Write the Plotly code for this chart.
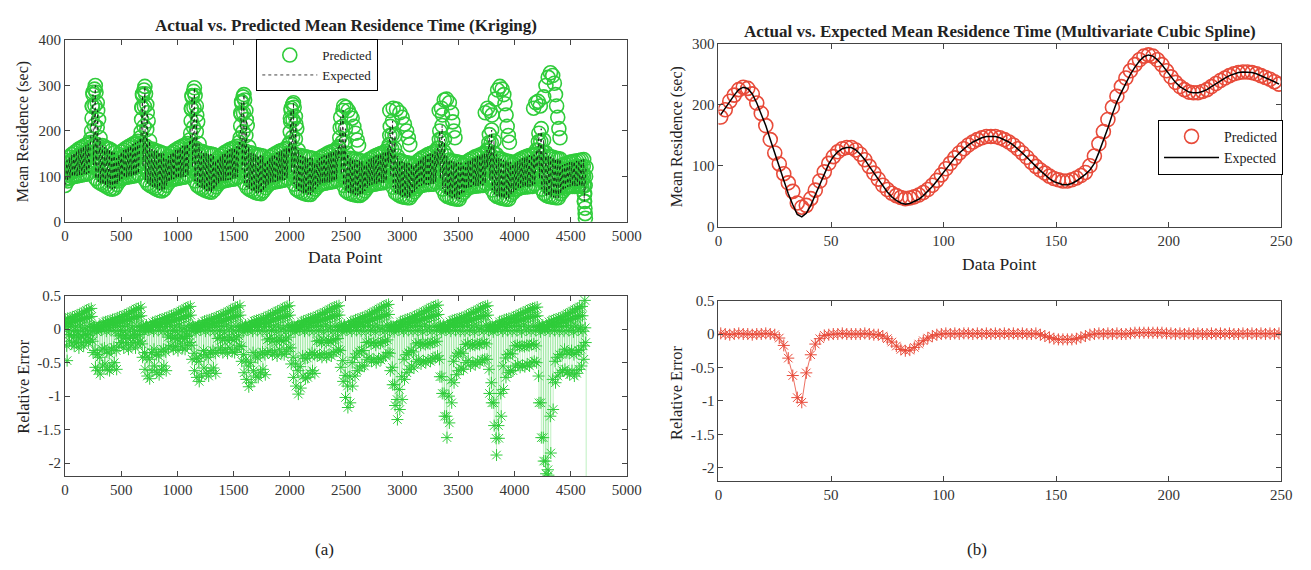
import plotly.graph_objects as go

# ---------------- DATA ----------------
# (a) Kriging: expected mean residence, read at five positions across each 21-point sweep
EXP_LO = [
    [80, 90, 96, 99, 100, 101, 102, 103, 104, 105, 108, 175, 125, 95, 88, 85, 82, 79, 76, 73, 72],
    [74, 82, 90, 95, 97, 98, 99, 100, 101, 102, 106, 172, 122, 92, 84, 80, 77, 74, 71, 69, 68],
    [72, 80, 87, 92, 94, 95, 96, 97, 98, 99, 103, 168, 120, 90, 80, 76, 73, 70, 68, 66, 65],
    [70, 77, 84, 88, 90, 91, 92, 93, 94, 95, 99, 160, 115, 86, 76, 72, 69, 66, 64, 63, 62],
    [68, 75, 81, 85, 87, 88, 89, 90, 91, 92, 96, 150, 110, 83, 72, 68, 65, 63, 61, 60, 60],
    [66, 72, 78, 82, 84, 85, 86, 87, 88, 89, 93, 140, 105, 80, 68, 64, 62, 60, 59, 58, 58],
    [62, 68, 75, 80, 82, 83, 84, 85, 86, 86, 90, 130, 100, 76, 64, 60, 57, 55, 54, 53, 53],
    [60, 66, 73, 78, 80, 81, 82, 82, 83, 83, 88, 125, 95, 72, 60, 56, 54, 52, 51, 50, 50],
    [60, 65, 71, 75, 77, 78, 79, 79, 80, 80, 85, 120, 92, 70, 60, 56, 54, 52, 51, 50, 50],
    [60, 65, 70, 73, 75, 76, 77, 77, 78, 78, 83, 120, 95, 72, 62, 58, 56, 55, 54, 53, 53],
    [62, 68, 74, 77, 78, 78, 78, 79, 79, 78, 45],
]
EXP_Q1 = [
    [94, 103, 109, 112, 114, 115, 117, 118, 120, 121, 126, 200, 168, 132, 112, 105, 102, 100, 97, 94, 92],
    [90, 98, 106, 110, 113, 115, 116, 118, 119, 121, 126, 198, 166, 129, 107, 100, 97, 94, 91, 89, 88],
    [88, 96, 102, 107, 110, 111, 113, 114, 116, 117, 122, 195, 164, 126, 103, 96, 93, 90, 88, 87, 85],
    [86, 92, 99, 103, 106, 107, 109, 110, 111, 112, 118, 185, 156, 121, 98, 92, 89, 86, 84, 83, 82],
    [84, 90, 96, 100, 102, 104, 105, 106, 108, 109, 114, 174, 148, 116, 93, 87, 85, 83, 81, 80, 80],
    [82, 88, 93, 97, 99, 101, 102, 103, 105, 106, 111, 162, 140, 111, 88, 83, 81, 79, 78, 77, 77],
    [78, 84, 90, 95, 97, 98, 100, 101, 102, 103, 108, 150, 130, 104, 84, 78, 76, 74, 73, 72, 71],
    [76, 82, 88, 93, 95, 97, 98, 99, 100, 101, 106, 143, 124, 99, 81, 76, 74, 72, 71, 70, 70],
    [76, 81, 86, 90, 92, 94, 95, 96, 97, 97, 103, 138, 120, 97, 82, 77, 75, 73, 71, 70, 70],
    [77, 81, 86, 89, 91, 92, 93, 94, 95, 95, 101, 138, 122, 99, 84, 79, 77, 76, 75, 74, 74],
    [78, 82, 87, 90, 91, 91, 92, 93, 93, 92, 62],
]
EXP_MID = [
    [108, 116, 122, 126, 128, 130, 132, 134, 136, 138, 145, 228, 212, 170, 136, 126, 123, 120, 118, 115, 112],
    [107, 115, 122, 126, 130, 132, 134, 136, 138, 140, 146, 225, 210, 166, 131, 120, 118, 115, 112, 110, 109],
    [105, 112, 118, 123, 126, 128, 130, 132, 134, 136, 142, 222, 208, 162, 126, 116, 113, 111, 109, 108, 106],
    [102, 108, 114, 118, 122, 124, 126, 127, 128, 130, 137, 211, 198, 156, 120, 112, 110, 107, 105, 104, 103],
    [100, 106, 111, 115, 118, 120, 122, 123, 125, 127, 133, 198, 186, 149, 115, 107, 105, 103, 101, 100, 100],
    [98, 104, 109, 112, 115, 117, 119, 120, 122, 124, 129, 185, 175, 142, 109, 102, 100, 98, 97, 96, 96],
    [94, 100, 106, 110, 112, 114, 116, 117, 119, 120, 126, 170, 161, 133, 104, 97, 95, 93, 92, 91, 90],
    [92, 98, 104, 108, 111, 113, 115, 116, 117, 119, 125, 162, 153, 127, 102, 96, 94, 92, 91, 90, 90],
    [93, 97, 102, 106, 108, 110, 112, 113, 114, 115, 121, 156, 147, 124, 104, 98, 96, 94, 92, 91, 91],
    [94, 98, 102, 105, 107, 109, 110, 111, 112, 113, 120, 157, 150, 126, 107, 101, 99, 98, 97, 96, 95],
    [94, 97, 101, 104, 105, 105, 106, 107, 107, 107, 80],
]
EXP_Q3 = [
    [121, 129, 135, 139, 142, 145, 147, 150, 152, 155, 163, 254, 256, 208, 160, 147, 144, 141, 139, 136, 132],
    [123, 131, 138, 142, 146, 148, 151, 153, 156, 158, 165, 251, 254, 203, 154, 140, 138, 135, 133, 131, 129],
    [121, 128, 134, 138, 142, 144, 147, 149, 151, 154, 161, 248, 251, 198, 149, 135, 133, 131, 129, 128, 127],
    [118, 124, 129, 133, 137, 140, 142, 144, 145, 148, 156, 236, 239, 190, 142, 132, 130, 127, 126, 125, 124],
    [116, 121, 126, 130, 133, 136, 138, 140, 142, 144, 151, 221, 224, 182, 136, 126, 124, 123, 121, 120, 120],
    [114, 119, 124, 127, 130, 133, 135, 137, 139, 141, 147, 207, 210, 173, 129, 121, 119, 117, 116, 115, 115],
    [110, 116, 121, 125, 127, 130, 132, 133, 135, 137, 144, 190, 191, 161, 124, 116, 114, 112, 111, 110, 109],
    [108, 114, 119, 123, 126, 129, 131, 133, 134, 137, 143, 181, 182, 154, 123, 116, 114, 112, 111, 110, 110],
    [110, 113, 118, 121, 124, 126, 128, 130, 131, 133, 139, 174, 174, 151, 126, 119, 117, 115, 113, 112, 111],
    [111, 114, 118, 121, 123, 125, 127, 128, 129, 130, 139, 176, 177, 153, 129, 123, 121, 120, 118, 117, 116],
    [110, 112, 115, 117, 118, 119, 120, 121, 121, 122, 100],
]
EXP_HI = [
    [135, 142, 148, 152, 156, 160, 163, 166, 169, 172, 182, 280, 300, 245, 185, 168, 165, 162, 160, 157, 152],
    [140, 148, 154, 158, 162, 165, 168, 171, 174, 177, 185, 278, 298, 240, 178, 160, 158, 156, 154, 152, 150],
    [138, 145, 150, 154, 158, 161, 164, 167, 169, 172, 180, 275, 295, 235, 172, 155, 153, 151, 150, 149, 148],
    [134, 140, 145, 149, 153, 156, 159, 161, 163, 166, 175, 262, 280, 225, 165, 152, 150, 148, 147, 146, 145],
    [132, 137, 142, 146, 149, 152, 155, 157, 159, 162, 170, 245, 262, 215, 158, 146, 144, 143, 142, 141, 140],
    [130, 135, 140, 143, 146, 149, 152, 154, 156, 158, 165, 230, 245, 205, 150, 140, 138, 137, 136, 135, 134],
    [126, 132, 137, 140, 143, 146, 148, 150, 152, 155, 162, 210, 222, 190, 145, 135, 133, 131, 130, 129, 128],
    [124, 130, 135, 139, 142, 145, 148, 150, 152, 155, 162, 200, 212, 182, 145, 136, 134, 133, 132, 131, 130],
    [126, 130, 134, 137, 140, 143, 145, 147, 149, 151, 158, 192, 202, 178, 148, 140, 138, 136, 134, 133, 132],
    [128, 131, 134, 137, 140, 142, 144, 146, 147, 148, 158, 195, 205, 180, 152, 145, 143, 142, 140, 139, 138],
    [125, 127, 129, 131, 132, 133, 134, 135, 136, 137, 120],
]
# predicted values that leave the expected band (a)
PRED_EXTRA_X = [241, 248, 262, 275, 286, 298,
                682, 689, 703, 716, 727, 739,
                1123, 1130, 1144, 1157, 1168, 1180,
                1564, 1571, 1585, 1598, 1609, 1621,
                2005, 2012, 2026, 2039, 2050, 2062,
                2480, 2500, 2520, 2540, 2555, 2570, 2585, 2600, 2612,
                2890, 2920, 2950, 2980, 3000, 3020, 3040, 3055, 3068,
                3330, 3350, 3360, 3375, 3395, 3420, 3440, 3450, 3460, 3470,
                3740, 3760, 3780, 3800, 3830, 3850, 3870, 3890, 3905, 3915, 3925, 3935, 3945, 3955,
                4170, 4190, 4210, 4230, 4260, 4280, 4300, 4320, 4340, 4355, 4365, 4375, 4385, 4395, 4405,
                4615, 4618, 4621, 4624, 4627, 4629, 4631]
PRED_EXTRA_Y = [255, 285, 292, 285, 262, 225,
                252, 282, 290, 282, 258, 222,
                250, 278, 287, 278, 255, 220,
                240, 265, 275, 268, 245, 212,
                228, 250, 258, 252, 232, 205,
                255, 252, 245, 235, 228, 210, 195, 180, 168,
                245, 250, 248, 240, 230, 215, 200, 185, 170,
                245, 250, 235, 268, 270, 262, 240, 220, 200, 185,
                240, 250, 245, 235, 270, 290, 298, 292, 280, 260, 235, 210, 190, 175,
                250, 262, 265, 255, 275, 300, 318, 328, 322, 305, 280, 255, 230, 205, 185,
                100, 80, 62, 45, 30, 18, 8]

# (a) relative error per sweep
ERR_UP = [
    [0.15, 0.16, 0.17, 0.18, 0.19, 0.21, 0.22, 0.24, 0.26, 0.28, 0.30, 0.31, 0.04, 0.03, 0.03, 0.04, 0.10, 0.11, 0.12, 0.13, 0.14],
    [0.15, 0.17, 0.18, 0.19, 0.21, 0.22, 0.24, 0.26, 0.28, 0.30, 0.31, 0.33, 0.05, 0.03, 0.03, 0.05, 0.10, 0.11, 0.12, 0.14, 0.15],
    [0.16, 0.17, 0.19, 0.20, 0.22, 0.23, 0.25, 0.27, 0.29, 0.31, 0.33, 0.34, 0.05, 0.03, 0.04, 0.05, 0.10, 0.12, 0.13, 0.14, 0.15],
    [0.16, 0.18, 0.19, 0.21, 0.22, 0.24, 0.26, 0.28, 0.30, 0.32, 0.33, 0.35, 0.05, 0.03, 0.04, 0.05, 0.10, 0.12, 0.13, 0.14, 0.15],
    [0.16, 0.18, 0.20, 0.21, 0.23, 0.25, 0.27, 0.28, 0.30, 0.32, 0.34, 0.35, 0.05, 0.04, 0.03, 0.05, 0.11, 0.12, 0.13, 0.15, 0.16],
    [0.17, 0.18, 0.20, 0.22, 0.23, 0.25, 0.27, 0.29, 0.31, 0.33, 0.34, 0.35, 0.05, 0.04, 0.03, 0.05, 0.11, 0.12, 0.14, 0.15, 0.16],
    [0.17, 0.19, 0.20, 0.22, 0.24, 0.26, 0.28, 0.30, 0.32, 0.34, 0.36, 0.37, 0.05, 0.04, 0.03, 0.05, 0.11, 0.12, 0.14, 0.15, 0.16],
    [0.17, 0.19, 0.21, 0.22, 0.24, 0.26, 0.28, 0.30, 0.32, 0.33, 0.35, 0.36, 0.05, 0.04, 0.03, 0.05, 0.11, 0.13, 0.14, 0.15, 0.16],
    [0.17, 0.18, 0.20, 0.22, 0.24, 0.25, 0.27, 0.29, 0.31, 0.33, 0.34, 0.35, 0.05, 0.04, 0.03, 0.05, 0.11, 0.12, 0.14, 0.15, 0.16],
    [0.16, 0.18, 0.20, 0.21, 0.23, 0.25, 0.26, 0.28, 0.30, 0.31, 0.32, 0.33, 0.05, 0.04, 0.03, 0.05, 0.11, 0.12, 0.14, 0.15, 0.16],
    [0.17, 0.19, 0.21, 0.23, 0.25, 0.27, 0.29, 0.31, 0.33, 0.34, 0.90],
]
ERR_UP2 = [
    [0.08, 0.09, 0.10, 0.11, 0.12, 0.13, 0.14, 0.15, 0.16, 0.17, 0.18, 0.19, 0.02, 0.01, 0.02, 0.02, 0.06, 0.07, 0.07, 0.08, 0.08],
    [0.09, 0.10, 0.11, 0.12, 0.13, 0.14, 0.15, 0.16, 0.17, 0.18, 0.19, 0.20, 0.02, 0.01, 0.02, 0.03, 0.06, 0.07, 0.07, 0.08, 0.09],
    [0.09, 0.10, 0.11, 0.12, 0.13, 0.14, 0.15, 0.16, 0.17, 0.19, 0.20, 0.21, 0.02, 0.01, 0.02, 0.03, 0.06, 0.07, 0.08, 0.08, 0.09],
    [0.09, 0.10, 0.11, 0.12, 0.13, 0.14, 0.16, 0.17, 0.18, 0.19, 0.20, 0.21, 0.02, 0.01, 0.02, 0.03, 0.06, 0.07, 0.08, 0.08, 0.09],
    [0.09, 0.10, 0.12, 0.12, 0.14, 0.15, 0.16, 0.17, 0.18, 0.19, 0.20, 0.21, 0.02, 0.02, 0.02, 0.03, 0.07, 0.07, 0.08, 0.09, 0.10],
    [0.10, 0.11, 0.12, 0.13, 0.14, 0.15, 0.16, 0.17, 0.19, 0.20, 0.21, 0.21, 0.02, 0.02, 0.02, 0.03, 0.07, 0.07, 0.08, 0.09, 0.10],
    [0.10, 0.11, 0.12, 0.13, 0.14, 0.16, 0.17, 0.18, 0.19, 0.20, 0.22, 0.22, 0.02, 0.02, 0.02, 0.03, 0.07, 0.07, 0.08, 0.09, 0.10],
    [0.10, 0.11, 0.13, 0.13, 0.14, 0.16, 0.17, 0.18, 0.19, 0.20, 0.21, 0.22, 0.02, 0.02, 0.02, 0.03, 0.07, 0.08, 0.08, 0.09, 0.10],
    [0.10, 0.11, 0.12, 0.13, 0.14, 0.15, 0.16, 0.17, 0.19, 0.20, 0.20, 0.21, 0.02, 0.02, 0.02, 0.03, 0.07, 0.07, 0.08, 0.09, 0.10],
    [0.10, 0.11, 0.12, 0.13, 0.14, 0.15, 0.16, 0.17, 0.18, 0.19, 0.19, 0.20, 0.02, 0.02, 0.02, 0.03, 0.07, 0.07, 0.08, 0.09, 0.10],
    [0.10, 0.11, 0.13, 0.14, 0.15, 0.16, 0.17, 0.19, 0.20, 0.20, 0.43],
]
ERR_NEAR0 = [
    [0.04, -0.03, 0.06, -0.02, 0.03, -0.04, 0.05, -0.01, 0.02, -0.03, 0.06, -0.02, 0.03, -0.04, 0.05, -0.01, 0.04, -0.03, 0.02, -0.02, 0.05],
    [-0.03, 0.05, -0.02, 0.04, -0.04, 0.06, -0.01, 0.03, -0.03, 0.05, -0.02, 0.04, -0.04, 0.06, -0.01, 0.03, -0.03, 0.05, -0.02, 0.04, -0.03],
    [0.04, -0.03, 0.06, -0.02, 0.03, -0.04, 0.05, -0.01, 0.02, -0.03, 0.06, -0.02, 0.03, -0.04, 0.05, -0.01, 0.04, -0.03, 0.02, -0.02, 0.05],
    [-0.03, 0.05, -0.02, 0.04, -0.04, 0.06, -0.01, 0.03, -0.03, 0.05, -0.02, 0.04, -0.04, 0.06, -0.01, 0.03, -0.03, 0.05, -0.02, 0.04, -0.03],
    [0.04, -0.03, 0.06, -0.02, 0.03, -0.04, 0.05, -0.01, 0.02, -0.03, 0.06, -0.02, 0.03, -0.04, 0.05, -0.01, 0.04, -0.03, 0.02, -0.02, 0.05],
    [-0.03, 0.05, -0.02, 0.04, -0.04, 0.06, -0.01, 0.03, -0.03, 0.05, -0.02, 0.04, -0.04, 0.06, -0.01, 0.03, -0.03, 0.05, -0.02, 0.04, -0.03],
    [0.04, -0.03, 0.06, -0.02, 0.03, -0.04, 0.05, -0.01, 0.02, -0.03, 0.06, -0.02, 0.03, -0.04, 0.05, -0.01, 0.04, -0.03, 0.02, -0.02, 0.05],
    [-0.03, 0.05, -0.02, 0.04, -0.04, 0.06, -0.01, 0.03, -0.03, 0.05, -0.02, 0.04, -0.04, 0.06, -0.01, 0.03, -0.03, 0.05, -0.02, 0.04, -0.03],
    [0.04, -0.03, 0.06, -0.02, 0.03, -0.04, 0.05, -0.01, 0.02, -0.03, 0.06, -0.02, 0.03, -0.04, 0.05, -0.01, 0.04, -0.03, 0.02, -0.02, 0.05],
    [-0.03, 0.05, -0.02, 0.04, -0.04, 0.06, -0.01, 0.03, -0.03, 0.05, -0.02, 0.04, -0.04, 0.06, -0.01, 0.03, -0.03, 0.05, -0.02, 0.04, -0.03],
    [0.04, -0.03, 0.06, -0.02, 0.03, -0.04, 0.05, -0.01, 0.02, -0.03, 0.02],
]
ERR_MID = [
    [-0.25, -0.08, -0.10, -0.12, -0.09, -0.13, -0.10, -0.12, -0.08, -0.09, -0.07, -0.18, -0.32, -0.38, -0.42, -0.30, -0.28, -0.34, -0.36, -0.30, -0.27],
    [-0.32, -0.10, -0.09, -0.13, -0.10, -0.14, -0.12, -0.09, -0.13, -0.10, -0.08, -0.22, -0.35, -0.42, -0.45, -0.35, -0.30, -0.38, -0.40, -0.33, -0.30],
    [-0.34, -0.12, -0.10, -0.14, -0.12, -0.15, -0.10, -0.13, -0.14, -0.11, -0.09, -0.24, -0.36, -0.44, -0.48, -0.40, -0.32, -0.38, -0.42, -0.35, -0.32],
    [-0.36, -0.14, -0.12, -0.16, -0.13, -0.17, -0.12, -0.15, -0.16, -0.13, -0.10, -0.26, -0.38, -0.46, -0.55, -0.50, -0.35, -0.40, -0.43, -0.37, -0.34],
    [-0.38, -0.16, -0.14, -0.18, -0.15, -0.19, -0.13, -0.17, -0.18, -0.15, -0.12, -0.28, -0.42, -0.52, -0.62, -0.56, -0.40, -0.44, -0.43, -0.38, -0.35],
    [-0.38, -0.18, -0.17, -0.20, -0.16, -0.20, -0.17, -0.19, -0.16, -0.15, -0.14, -0.32, -0.47, -0.69, -0.85, -0.71, -0.50, -0.42, -0.37, -0.34, -0.32],
    [-0.32, -0.20, -0.19, -0.22, -0.20, -0.24, -0.20, -0.21, -0.19, -0.18, -0.16, -0.36, -0.57, -0.83, -1.05, -0.90, -0.71, -0.45, -0.38, -0.35, -0.32],
    [-0.34, -0.22, -0.20, -0.24, -0.21, -0.23, -0.21, -0.22, -0.20, -0.19, -0.18, -0.45, -0.71, -0.96, -1.30, -1.00, -0.76, -0.48, -0.40, -0.36, -0.34],
    [-0.36, -0.23, -0.21, -0.25, -0.23, -0.24, -0.22, -0.23, -0.21, -0.20, -0.22, -0.60, -0.80, -1.10, -1.63, -1.44, -0.96, -0.55, -0.43, -0.38, -0.36],
    [-0.37, -0.25, -0.24, -0.26, -0.25, -0.26, -0.24, -0.25, -0.23, -0.22, -0.25, -0.70, -1.10, -1.62, -1.97, -2.10, -1.30, -0.75, -0.48, -0.42, -0.38],
    [-0.38, -0.30, -0.34, -0.36, -0.32, -0.38, -0.35, -0.32, -0.30, -0.25, -0.20],
]
ERR_DN = [
    [-0.47, -0.18, -0.22, -0.25, -0.20, -0.28, -0.22, -0.25, -0.18, -0.20, -0.15, -0.35, -0.57, -0.62, -0.67, -0.55, -0.52, -0.60, -0.62, -0.55, -0.50],
    [-0.60, -0.25, -0.20, -0.28, -0.22, -0.30, -0.25, -0.20, -0.28, -0.22, -0.18, -0.42, -0.60, -0.70, -0.74, -0.62, -0.55, -0.65, -0.68, -0.60, -0.55],
    [-0.62, -0.28, -0.24, -0.30, -0.26, -0.32, -0.22, -0.28, -0.30, -0.24, -0.20, -0.45, -0.62, -0.72, -0.78, -0.70, -0.58, -0.66, -0.70, -0.62, -0.58],
    [-0.66, -0.32, -0.28, -0.35, -0.30, -0.36, -0.28, -0.33, -0.35, -0.30, -0.24, -0.48, -0.65, -0.75, -0.86, -0.80, -0.62, -0.70, -0.72, -0.65, -0.60],
    [-0.68, -0.35, -0.32, -0.38, -0.34, -0.40, -0.30, -0.36, -0.38, -0.33, -0.28, -0.52, -0.72, -0.85, -0.97, -0.88, -0.70, -0.74, -0.72, -0.66, -0.62],
    [-0.66, -0.40, -0.38, -0.42, -0.36, -0.42, -0.38, -0.40, -0.35, -0.33, -0.30, -0.57, -0.78, -1.02, -1.17, -1.10, -0.85, -0.70, -0.62, -0.58, -0.55],
    [-0.55, -0.45, -0.42, -0.48, -0.45, -0.50, -0.44, -0.46, -0.42, -0.40, -0.35, -0.62, -0.83, -1.14, -1.35, -1.20, -1.05, -0.75, -0.65, -0.60, -0.55],
    [-0.58, -0.48, -0.45, -0.52, -0.47, -0.50, -0.46, -0.48, -0.44, -0.42, -0.40, -0.71, -0.96, -1.30, -1.62, -1.40, -1.10, -0.80, -0.68, -0.62, -0.58],
    [-0.60, -0.50, -0.47, -0.55, -0.50, -0.53, -0.48, -0.50, -0.46, -0.45, -0.45, -0.96, -1.10, -1.44, -1.88, -1.63, -1.30, -0.90, -0.72, -0.65, -0.62],
    [-0.62, -0.55, -0.52, -0.57, -0.54, -0.56, -0.52, -0.55, -0.50, -0.48, -0.50, -1.10, -1.62, -1.97, -2.16, -2.18, -1.85, -1.20, -0.80, -0.70, -0.65],
    [-0.62, -0.60, -0.65, -0.68, -0.62, -0.70, -0.66, -0.60, -0.55, -0.45, -3.00],
]

# (b) Multivariate cubic spline, data points 1, 3, 5, ..., 249
EXP_B = [184, 195, 206, 216, 225, 229, 227, 218, 203, 186, 166, 143, 120, 97, 74, 54, 36, 20, 16, 22,
         35, 52, 70, 88, 103, 115, 123, 128, 130, 130, 126, 119, 110, 99, 88, 77, 66, 57, 49, 43,
         39, 37, 38, 41, 45, 51, 58, 66, 75, 85, 95, 104, 113, 121, 128, 134, 139, 143, 146, 148,
         148, 148, 146, 143, 139, 134, 128, 121, 114, 106, 99, 92, 85, 79, 74, 71, 69, 69, 71, 75,
         80, 86, 93, 104, 122, 141, 162, 185, 205, 221, 236, 250, 262, 272, 279, 282, 280, 274, 266, 256,
         246, 237, 230, 225, 221, 220, 220, 222, 225, 230, 235, 240, 244, 248, 251, 253, 254, 254, 253, 251,
         248, 245, 242, 238, 234]
PRED_B = [180, 192, 206, 216, 225, 229, 227, 218, 203, 186, 166, 143, 121, 103, 87, 72, 58, 39, 32, 35,
          46, 60, 75, 90, 104, 115, 123, 128, 130, 130, 126, 119, 110, 99, 88, 78, 68, 61, 55, 51,
          48, 46, 47, 49, 52, 56, 61, 68, 76, 85, 95, 104, 113, 121, 128, 134, 139, 143, 146, 148,
          148, 148, 146, 143, 139, 134, 128, 121, 114, 106, 99, 93, 88, 83, 79, 77, 75, 75, 77, 80,
          84, 89, 100, 116, 136, 156, 176, 196, 214, 230, 244, 256, 266, 274, 280, 282, 280, 274, 266, 256,
          246, 237, 230, 225, 221, 220, 220, 222, 225, 230, 235, 240, 244, 248, 251, 253, 254, 254, 253, 251,
          248, 245, 242, 238, 234]
ERR_B = [0.01, 0.0, -0.01, 0.0, 0.01, 0.0, 0.0, -0.01, 0.0, 0.0, 0.01, 0.0,
         -0.01, -0.06, -0.17, -0.36, -0.62, -0.95, -1.02, -0.58, -0.31, -0.15, -0.07, -0.02, -0.01,
         0.0, 0.0, 0.01, 0.0, 0.0, 0.0, 0.0, 0.01, 0.0, -0.01,
         -0.01, -0.03, -0.07, -0.12, -0.18, -0.23, -0.25, -0.24, -0.20, -0.15, -0.10, -0.06, -0.03, -0.01, 0.0,
         0.01, 0.0, 0.01, 0.0, 0.01, 0.01, 0.0, 0.01, 0.0, 0.01, 0.0, 0.01, 0.0, 0.01, 0.0, 0.01, 0.0, 0.01, 0.0, 0.0, 0.01,
         -0.01, -0.03, -0.05, -0.07, -0.08, -0.08, -0.08, -0.08, -0.07, -0.05, -0.03, -0.01,
         0.0, 0.01, 0.0, 0.01, 0.0, 0.01, 0.0, 0.0, 0.01, 0.02, 0.02, 0.02, 0.02, 0.02, 0.02, 0.02, 0.01, 0.01, 0.0, 0.01, 0.0,
         0.01, 0.0, 0.01, 0.0, 0.0, 0.01, 0.0, 0.01, 0.0, 0.01, 0.0, 0.0, 0.01, 0.0, 0.01, 0.0, 0.01, 0.0, 0.01, 0.0, 0.01]

ERR_TICKS = [-2, -1.5, -1, -0.5, 0, 0.5]
ERR_TICKTEXT = ["-2", "-1.5", "-1", "-0.5", "0", "0.5"]

# ---------------- BUILD ----------------
W, H = 1311, 570
FONT = "Liberation Serif, Times New Roman, serif"
GREEN = "#2fcc3a"
GREEN_STEM = "rgba(47,204,58,0.45)"
RED = "#e84b3a"
AXC = "#444444"
SWEEP = 21


def flat(rows):
    return [v for r in rows for v in r]


cols = [flat(EXP_LO), flat(EXP_Q1), flat(EXP_MID), flat(EXP_Q3), flat(EXP_HI)]
offs = [1, 5, 9, 13, 17]
exp_x, exp_y = [], []
for j in range(len(cols[0])):
    b = SWEEP * j
    for o, c in zip(offs, cols):
        exp_x.append(b + o)
        exp_y.append(c[j])
pred_x = exp_x + PRED_EXTRA_X
pred_y = exp_y + PRED_EXTRA_Y

ecols = [flat(ERR_UP), flat(ERR_UP2), flat(ERR_NEAR0), flat(ERR_MID), flat(ERR_DN)]
eoffs = [2, 6, 10, 14, 18]
err_x, err_y = [], []
for j in range(len(ecols[0])):
    b = SWEEP * j
    for o, c in zip(eoffs, ecols):
        err_x.append(b + o)
        err_y.append(c[j])
stem_x, stem_y = [], []
for xv, yv in zip(err_x, err_y):
    stem_x += [xv, xv, None]
    stem_y += [0, yv, None]

xb = list(range(1, 2 * len(EXP_B), 2))


def xd(a, b):
    return [a / W, b / W]


def yd(top, bottom):
    return [1 - bottom / H, 1 - top / H]


def ax(**kw):
    d = dict(showline=True, linecolor=AXC, linewidth=1, mirror="ticks", ticks="inside",
             ticklen=5, tickcolor=AXC, showgrid=False, zeroline=False,
             tickfont=dict(family=FONT, size=15, color="#333"))
    d.update(kw)
    return d


fig = go.Figure()
fig.add_trace(go.Scatter(x=pred_x, y=pred_y, mode="markers", name="Predicted",
                         marker=dict(symbol="circle-open", size=14, color=GREEN, line=dict(width=1.6)),
                         xaxis="x", yaxis="y", legend="legend"))
fig.add_trace(go.Scatter(x=exp_x, y=exp_y, mode="lines", name="Expected",
                         line=dict(color="#111111", width=0.8, dash="dot"),
                         xaxis="x", yaxis="y", legend="legend"))
fig.add_trace(go.Scatter(x=stem_x, y=stem_y, mode="lines", showlegend=False,
                         line=dict(color=GREEN_STEM, width=0.7), xaxis="x2", yaxis="y2"))
fig.add_trace(go.Scatter(x=err_x, y=err_y, mode="markers", showlegend=False,
                         marker=dict(symbol="asterisk-open", size=10, color=GREEN, line=dict(width=1, color=GREEN)),
                         xaxis="x2", yaxis="y2"))
fig.add_trace(go.Scatter(x=xb, y=PRED_B, mode="markers", name="Predicted",
                         marker=dict(symbol="circle-open", size=14, color=RED, line=dict(width=1.6)),
                         xaxis="x3", yaxis="y3", legend="legend2"))
fig.add_trace(go.Scatter(x=xb, y=EXP_B, mode="lines", name="Expected",
                         line=dict(color="black", width=1.5),
                         xaxis="x3", yaxis="y3", legend="legend2"))
fig.add_trace(go.Scatter(x=xb, y=ERR_B, mode="lines+markers", showlegend=False,
                         line=dict(color=RED, width=0.8),
                         marker=dict(symbol="asterisk-open", size=10, color=RED, line=dict(width=1, color=RED)),
                         xaxis="x4", yaxis="y4"))

ann = []


def text(s, px, py, size=15, angle=0, bold=False):
    ann.append(dict(text=("<b>%s</b>" % s) if bold else s, x=px / W, y=1 - py / H,
                    xref="paper", yref="paper", xanchor="center", yanchor="middle",
                    showarrow=False, textangle=angle,
                    font=dict(family=FONT, size=size, color="#222")))


text("Actual vs. Predicted Mean Residence Time (Kriging)", 347, 18, 17, bold=True)
text("Actual vs. Expected Mean Residence Time (Multivariate Cubic Spline)", 1011, 24, 17, bold=True)
text("Data Point", 347, 256, 17.5)
text("Data Point", 1010, 263, 17.5)
text("Mean Residence (sec)", 20, 127, 16, angle=-90)
text("Mean Residence (sec)", 683, 133, 16, angle=-90)
text("Relative Error", 19, 390, 16.5, angle=-90)
text("Relative Error", 683, 396, 16.5, angle=-90)
text("(a)", 325, 557, 17)
text("(b)", 987, 557, 17)

legend_common = dict(bordercolor="black", borderwidth=1, bgcolor="white",
                     xanchor="left", yanchor="top", tracegroupgap=0, itemsizing="trace",
                     itemwidth=55)

fig.update_layout(
    width=W, height=H, margin=dict(l=0, r=0, t=0, b=0),
    paper_bgcolor="white", plot_bgcolor="white",
    xaxis=ax(domain=xd(62, 632), range=[0, 5000], dtick=500, tickformat="d", anchor="y"),
    yaxis=ax(domain=yd(33, 220), range=[0, 400], dtick=100, anchor="x"),
    xaxis2=ax(domain=xd(62, 632), range=[0, 5000], dtick=500, tickformat="d", anchor="y2"),
    yaxis2=ax(domain=yd(296, 482), range=[-2.2, 0.5], tickvals=ERR_TICKS, ticktext=ERR_TICKTEXT, anchor="x2"),
    xaxis3=ax(domain=xd(725, 1296), range=[0, 250], dtick=50, anchor="y3"),
    yaxis3=ax(domain=yd(37, 225), range=[0, 300], dtick=100, anchor="x3"),
    xaxis4=ax(domain=xd(725, 1296), range=[0, 250], dtick=50, anchor="y4"),
    yaxis4=ax(domain=yd(301, 487), range=[-2.2, 0.5], tickvals=ERR_TICKS, ticktext=ERR_TICKTEXT, anchor="x4"),
    legend=dict(x=256 / W, y=1 - 32 / H, font=dict(family=FONT, size=13, color="#222"), **legend_common),
    legend2=dict(x=1171 / W, y=1 - 115 / H, font=dict(family=FONT, size=14, color="#222"), **legend_common),
    annotations=ann,
    showlegend=True,
)

fig.write_html("out.html")
